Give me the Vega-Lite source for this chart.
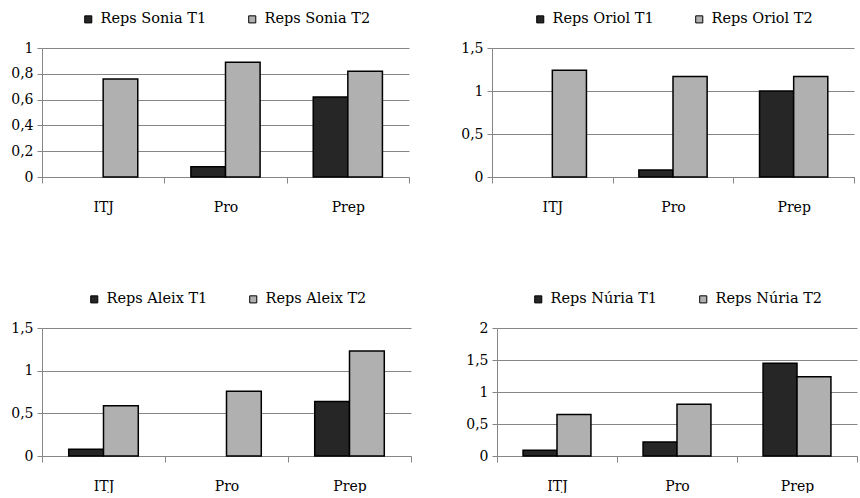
{
  "$schema": "https://vega.github.io/schema/vega-lite/v6.json",
  "background": "white",
  "padding": {"left": 10, "top": 12, "right": 0, "bottom": 0},
  "datasets": {
    "d": [
      {"panel": "Sonia", "cat": "ITJ", "series": "Reps Sonia T1", "value": 0},
      {"panel": "Sonia", "cat": "ITJ", "series": "Reps Sonia T2", "value": 0.76},
      {"panel": "Sonia", "cat": "Pro", "series": "Reps Sonia T1", "value": 0.08},
      {"panel": "Sonia", "cat": "Pro", "series": "Reps Sonia T2", "value": 0.89},
      {"panel": "Sonia", "cat": "Prep", "series": "Reps Sonia T1", "value": 0.62},
      {"panel": "Sonia", "cat": "Prep", "series": "Reps Sonia T2", "value": 0.82},
      {"panel": "Oriol", "cat": "ITJ", "series": "Reps Oriol T1", "value": 0},
      {"panel": "Oriol", "cat": "ITJ", "series": "Reps Oriol T2", "value": 1.24},
      {"panel": "Oriol", "cat": "Pro", "series": "Reps Oriol T1", "value": 0.08},
      {"panel": "Oriol", "cat": "Pro", "series": "Reps Oriol T2", "value": 1.17},
      {"panel": "Oriol", "cat": "Prep", "series": "Reps Oriol T1", "value": 1.0},
      {"panel": "Oriol", "cat": "Prep", "series": "Reps Oriol T2", "value": 1.17},
      {"panel": "Aleix", "cat": "ITJ", "series": "Reps Aleix T1", "value": 0.08},
      {"panel": "Aleix", "cat": "ITJ", "series": "Reps Aleix T2", "value": 0.59},
      {"panel": "Aleix", "cat": "Pro", "series": "Reps Aleix T1", "value": 0},
      {"panel": "Aleix", "cat": "Pro", "series": "Reps Aleix T2", "value": 0.76},
      {"panel": "Aleix", "cat": "Prep", "series": "Reps Aleix T1", "value": 0.64},
      {"panel": "Aleix", "cat": "Prep", "series": "Reps Aleix T2", "value": 1.23},
      {"panel": "Núria", "cat": "ITJ", "series": "Reps Núria T1", "value": 0.09},
      {"panel": "Núria", "cat": "ITJ", "series": "Reps Núria T2", "value": 0.65},
      {"panel": "Núria", "cat": "Pro", "series": "Reps Núria T1", "value": 0.22},
      {"panel": "Núria", "cat": "Pro", "series": "Reps Núria T2", "value": 0.81},
      {"panel": "Núria", "cat": "Prep", "series": "Reps Núria T1", "value": 1.45},
      {"panel": "Núria", "cat": "Prep", "series": "Reps Núria T2", "value": 1.24}
    ]
  },
  "vconcat": [
    {
      "spacing": 50,
      "resolve": {"scale": {"color": "independent", "y": "independent", "x": "independent", "xOffset": "independent"}, "legend": {"color": "independent"}},
      "hconcat": [
        {
          "width": 367, "height": 129,
          "data": {"name": "d"},
          "transform": [{"filter": "datum.panel == 'Sonia'"}],
          "mark": {"type": "bar", "stroke": "black", "strokeWidth": 1.5},
          "encoding": {
            "x": {"field": "cat", "type": "nominal", "sort": ["ITJ", "Pro", "Prep"], "title": null, "scale": {"paddingInner": 0, "paddingOuter": 0}},
            "xOffset": {"field": "series", "type": "nominal", "scale": {"paddingInner": 0, "paddingOuter": 0.768}},
            "y": {"field": "value", "type": "quantitative", "title": null, "scale": {"domain": [0, 1]}, "axis": {"values": [0, 0.2, 0.4, 0.6, 0.8, 1]}},
            "color": {"field": "series", "type": "nominal", "title": null, "scale": {"range": ["#262626", "#b0b0b0"]}},
            "strokeOpacity": {"condition": {"test": "datum.value == 0", "value": 0}, "value": 1}
          }
        },
        {
          "width": 362, "height": 129,
          "data": {"name": "d"},
          "transform": [{"filter": "datum.panel == 'Oriol'"}],
          "mark": {"type": "bar", "stroke": "black", "strokeWidth": 1.5},
          "encoding": {
            "x": {"field": "cat", "type": "nominal", "sort": ["ITJ", "Pro", "Prep"], "title": null, "scale": {"paddingInner": 0, "paddingOuter": 0}},
            "xOffset": {"field": "series", "type": "nominal", "scale": {"paddingInner": 0, "paddingOuter": 0.768}},
            "y": {"field": "value", "type": "quantitative", "title": null, "scale": {"domain": [0, 1.5]}, "axis": {"values": [0, 0.5, 1, 1.5]}},
            "color": {"field": "series", "type": "nominal", "title": null, "scale": {"range": ["#262626", "#b0b0b0"]}},
            "strokeOpacity": {"condition": {"test": "datum.value == 0", "value": 0}, "value": 1}
          }
        }
      ]
    },
    {
      "spacing": 53,
      "resolve": {"scale": {"color": "independent", "y": "independent", "x": "independent", "xOffset": "independent"}, "legend": {"color": "independent"}},
      "hconcat": [
        {
          "width": 369, "height": 128,
          "data": {"name": "d"},
          "transform": [{"filter": "datum.panel == 'Aleix'"}],
          "mark": {"type": "bar", "stroke": "black", "strokeWidth": 1.5},
          "encoding": {
            "x": {"field": "cat", "type": "nominal", "sort": ["ITJ", "Pro", "Prep"], "title": null, "scale": {"paddingInner": 0, "paddingOuter": 0}},
            "xOffset": {"field": "series", "type": "nominal", "scale": {"paddingInner": 0, "paddingOuter": 0.768}},
            "y": {"field": "value", "type": "quantitative", "title": null, "scale": {"domain": [0, 1.5]}, "axis": {"values": [0, 0.5, 1, 1.5]}},
            "color": {"field": "series", "type": "nominal", "title": null, "scale": {"range": ["#262626", "#b0b0b0"]}},
            "strokeOpacity": {"condition": {"test": "datum.value == 0", "value": 0}, "value": 1}
          }
        },
        {
          "width": 360, "height": 128,
          "data": {"name": "d"},
          "transform": [{"filter": "datum.panel == 'Núria'"}],
          "mark": {"type": "bar", "stroke": "black", "strokeWidth": 1.5},
          "encoding": {
            "x": {"field": "cat", "type": "nominal", "sort": ["ITJ", "Pro", "Prep"], "title": null, "scale": {"paddingInner": 0, "paddingOuter": 0}},
            "xOffset": {"field": "series", "type": "nominal", "scale": {"paddingInner": 0, "paddingOuter": 0.768}},
            "y": {"field": "value", "type": "quantitative", "title": null, "scale": {"domain": [0, 2]}, "axis": {"values": [0, 0.5, 1, 1.5, 2]}},
            "color": {"field": "series", "type": "nominal", "title": null, "scale": {"range": ["#262626", "#b0b0b0"]}},
            "strokeOpacity": {"condition": {"test": "datum.value == 0", "value": 0}, "value": 1}
          }
        }
      ]
    }
  ],
  "spacing": 78,
  "resolve": {"scale": {"color": "independent", "y": "independent", "x": "independent", "xOffset": "independent"}, "legend": {"color": "independent"}},
  "config": {
    "font": "DejaVu Serif",
    "view": {"stroke": null},
    "axis": {"labelFont": "DejaVu Serif", "labelFontSize": 14, "labelFontWeight": "normal", "labelColor": "#000000", "domainColor": "#868686", "tickColor": "#868686", "gridColor": "#868686", "gridOpacity": 1},
    "axisY": {"grid": true, "tickSize": 5, "labelPadding": 4, "labelExpr": "replace(format(datum.value, '~g'), '.', ',')"},
    "axisX": {"grid": false, "tickBand": "extent", "ticks": true, "tickSize": 6, "labelPadding": 17, "labelAngle": 0},
    "legend": {"orient": "top", "direction": "horizontal", "symbolType": "square", "symbolSize": 50, "symbolStrokeColor": "#000000", "symbolStrokeWidth": 1, "symbolOpacity": 1, "labelFont": "DejaVu Serif", "labelFontSize": 14.5, "labelFontWeight": "normal", "labelColor": "#000000", "labelOffset": 5, "columnPadding": 38, "offset": 22, "layout": {"top": {"anchor": "middle"}}}
  }
}
